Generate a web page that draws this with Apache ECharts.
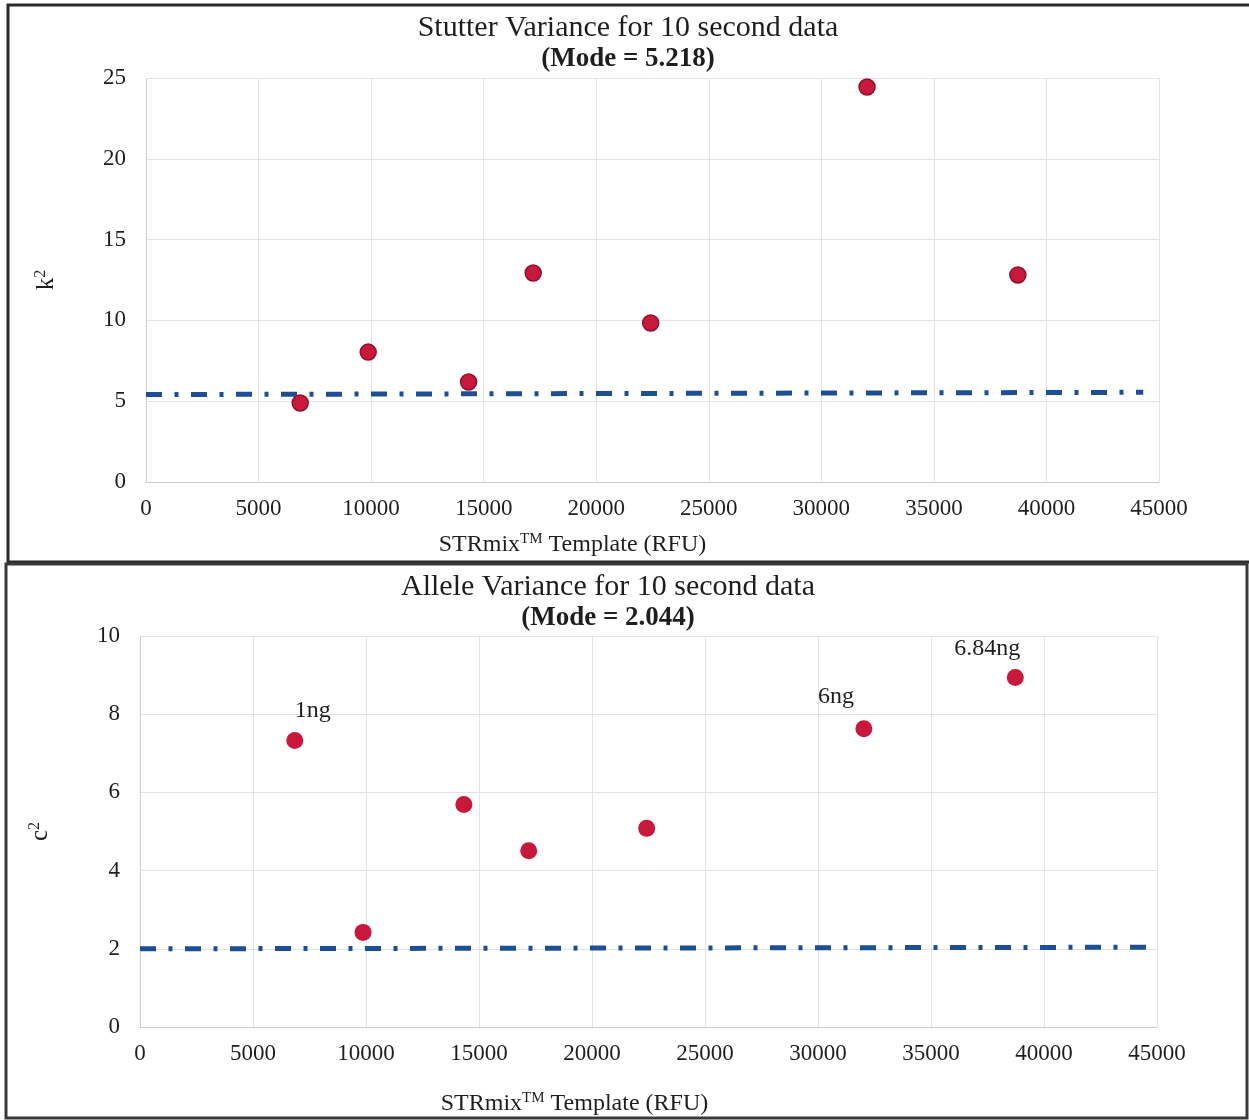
<!DOCTYPE html>
<html>
<head>
<meta charset="utf-8">
<script src="https://cdn.jsdelivr.net/npm/echarts@6/dist/echarts.min.js"></script>
<style>
html,body{margin:0;padding:0;background:#fff;}
#chart{width:1249px;height:1120px;}
</style>
</head>
<body>
<div id="chart"></div>
<script>
// ---- data ----
const xTemplate = [6850, 9870, 14330, 17200, 22420, 32030, 38730];
const stutterK2 = [4.89, 8.04, 6.19, 12.93, 9.84, 24.44, 12.81];
const alleleC2 = [7.33, 2.42, 5.69, 4.51, 5.08, 7.63, 8.94];
const pointLabels = ['1ng', '', '', '', '', '6ng', '6.84ng'];
const stutterModeLine = [[0, 5.41], [44300, 5.55]];
const alleleModeLine = [[0, 2.0], [44600, 2.04]];
const xAxisRange = [0, 45000, 5000];
const stutterYRange = [0, 25, 5];
const alleleYRange = [0, 10, 2];
const titles = {
  top: ['Stutter Variance for 10 second data', '(Mode = 5.218)'],
  bottom: ['Allele Variance for 10 second data', '(Mode = 2.044)']
};

// ---- styling ----
const SERIF = "'Liberation Serif', 'Times New Roman', serif";
const TXT = '#1e1e1e';
const RED = '#c8183c';
const BLUE = '#1c4f93';
const labelOffsets = [[18, -30], null, null, null, null, [-28, -32], [-28, -29]];

const chart = echarts.init(document.getElementById('chart'), null, {renderer: 'canvas'});

function xAxisCfg(gi, nameGap, shiftPad) {
  return {
    type: 'value', gridIndex: gi,
    min: xAxisRange[0], max: xAxisRange[1], interval: xAxisRange[2],
    name: 'STRmix{sup|TM} Template (RFU)', nameLocation: 'middle', nameGap: nameGap,
    nameTextStyle: {
      fontFamily: SERIF, fontSize: 24, color: TXT, lineHeight: 26,
      padding: [0, shiftPad, 0, 0],
      rich: {sup: {fontFamily: SERIF, fontSize: 15, color: TXT, verticalAlign: 'top', lineHeight: 26}}
    },
    axisLine: {show: true, lineStyle: {color: '#c8c8c8', type: 'dotted', width: 1}},
    axisTick: {show: false},
    axisLabel: {fontFamily: SERIF, fontSize: 23, color: TXT, margin: 15, formatter: v => String(v)},
    splitLine: {show: true, lineStyle: {color: '#e4e4e4', width: 1}}
  };
}
function yAxisCfg(gi, range, name) {
  return {
    type: 'value', gridIndex: gi,
    min: range[0], max: range[1], interval: range[2],
    name: name, nameLocation: 'middle', nameGap: 86, nameRotate: 90,
    nameTextStyle: {
      fontFamily: SERIF, fontSize: 25, color: TXT, lineHeight: 27,
      rich: {sup: {fontFamily: SERIF, fontSize: 16, color: TXT, verticalAlign: 'top', lineHeight: 27}}
    },
    axisLine: {show: true, lineStyle: {color: '#c8c8c8', type: 'dotted', width: 1}},
    axisTick: {show: false},
    axisLabel: {fontFamily: SERIF, fontSize: 23, color: TXT, margin: 20},
    splitLine: {show: true, lineStyle: {color: '#e4e4e4', width: 1}}
  };
}

const topPoints = xTemplate.map((x, i) => [x, stutterK2[i]]);
const bottomPoints = xTemplate.map((x, i) => {
  const item = {value: [x, alleleC2[i]]};
  if (pointLabels[i]) {
    item.label = {
      show: true, formatter: pointLabels[i], position: 'inside',
      offset: labelOffsets[i], fontFamily: SERIF, fontSize: 24, color: TXT
    };
  }
  return item;
});

function titleText(x, y, text, bold, size) {
  return {
    type: 'text', x: x, y: y, silent: true,
    style: {
      text: text, fill: TXT,
      font: (bold ? 'bold ' : '') + size + 'px ' + SERIF,
      align: 'center', verticalAlign: 'middle',
      textAlign: 'center', textVerticalAlign: 'middle'
    }
  };
}

const option = {
  backgroundColor: '#ffffff',
  animation: false,
  grid: [
    {left: 146, right: 90, top: 78, height: 404, containLabel: false},
    {left: 140, right: 92, top: 636, height: 391, containLabel: false}
  ],
  xAxis: [xAxisCfg(0, 50, 160), xAxisCfg(1, 64, 148)],
  yAxis: [yAxisCfg(0, stutterYRange, 'k{sup|2}'), yAxisCfg(1, alleleYRange, 'c{sup|2}')],
  graphic: [
    {type: 'rect', shape: {x: 8, y: 5, width: 1260, height: 557}, style: {fill: 'none', stroke: '#2a2a2a', lineWidth: 3}, silent: true},
    {type: 'rect', shape: {x: 6, y: 564, width: 1241, height: 554}, style: {fill: 'none', stroke: '#3a3a3a', lineWidth: 3}, silent: true},
    titleText(628, 28, titles.top[0], false, 30),
    titleText(628, 59, titles.top[1], true, 27),
    titleText(608, 587, titles.bottom[0], false, 30),
    titleText(608, 618, titles.bottom[1], true, 27)
  ],
  series: [
    {
      type: 'line', xAxisIndex: 0, yAxisIndex: 0, data: stutterModeLine,
      showSymbol: false, symbol: 'none', z: 2,
      lineStyle: {color: BLUE, width: 5, type: [16, 12.5, 4, 12.5]}
    },
    {
      type: 'scatter', xAxisIndex: 0, yAxisIndex: 0, data: topPoints,
      symbolSize: 16, z: 3,
      itemStyle: {color: RED, borderColor: '#8e1230', borderWidth: 1.5, opacity: 1}
    },
    {
      type: 'line', xAxisIndex: 1, yAxisIndex: 1, data: alleleModeLine,
      showSymbol: false, symbol: 'none', z: 2,
      lineStyle: {color: BLUE, width: 5, type: [16, 12.5, 4, 12.5]}
    },
    {
      type: 'scatter', xAxisIndex: 1, yAxisIndex: 1, data: bottomPoints,
      symbolSize: 17, z: 3,
      itemStyle: {color: RED, opacity: 1}
    }
  ]
};
chart.setOption(option);
</script>
</body>
</html>
